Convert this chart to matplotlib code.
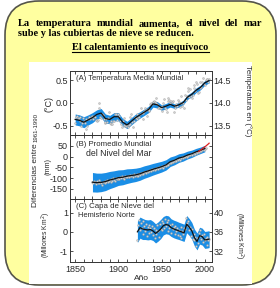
import matplotlib
matplotlib.use('Agg')
import matplotlib.pyplot as plt
from matplotlib.patches import FancyBboxPatch, Rectangle
from matplotlib.transforms import IdentityTransform
from matplotlib.lines import Line2D
from matplotlib.ticker import MultipleLocator, FixedLocator

plt.rcParams['font.family'] = ['Liberation Sans', 'DejaVu Sans']
plt.rcParams['axes.unicode_minus'] = False

# ---------------- data ----------------
temp_years = list(range(1850, 2006))
temp_anom = [
    -0.44, -0.30, -0.29, -0.32, -0.32, -0.31, -0.40, -0.51, -0.43, -0.33,
    -0.39, -0.44, -0.56, -0.35, -0.50, -0.34, -0.30, -0.34, -0.30, -0.29,
    -0.30, -0.34, -0.28, -0.31, -0.37, -0.39, -0.37, -0.10, 0.01, -0.30,
    -0.32, -0.25, -0.27, -0.34, -0.43, -0.41, -0.34, -0.41, -0.33, -0.20,
    -0.44, -0.39, -0.45, -0.45, -0.40, -0.39, -0.23, -0.24, -0.38, -0.28,
    -0.23, -0.29, -0.40, -0.47, -0.53, -0.40, -0.32, -0.48, -0.51, -0.50,
    -0.48, -0.52, -0.49, -0.47, -0.30, -0.24, -0.42, -0.52, -0.40, -0.31,
    -0.32, -0.24, -0.34, -0.31, -0.31, -0.24, -0.12, -0.22, -0.21, -0.36,
    -0.17, -0.10, -0.16, -0.29, -0.14, -0.18, -0.15, -0.03, 0.00, -0.02,
    0.03, 0.05, 0.02, 0.01, 0.12, -0.02, -0.12, -0.09, -0.10, -0.11,
    -0.18, -0.07, 0.01, 0.08, -0.12, -0.14, -0.20, 0.04, 0.11, 0.06,
    -0.01, 0.05, 0.03, 0.05, -0.20, -0.11, -0.06, -0.02, -0.07, 0.07,
    0.03, -0.09, 0.01, 0.16, -0.07, -0.01, -0.10, 0.18, 0.07, 0.16,
    0.26, 0.32, 0.14, 0.31, 0.16, 0.12, 0.18, 0.33, 0.40, 0.27,
    0.45, 0.41, 0.22, 0.23, 0.32, 0.45, 0.34, 0.47, 0.55, 0.41,
    0.39, 0.50, 0.52, 0.52, 0.47, 0.53]
temp_sm_years = [1850, 1855, 1860, 1865, 1870, 1875, 1880, 1885, 1890, 1895,
                 1900, 1905, 1910, 1915, 1920, 1925, 1930, 1935, 1940, 1945,
                 1950, 1955, 1960, 1965, 1970, 1975, 1980, 1985, 1990, 1995,
                 2000, 2005]
temp_sm = [-0.36, -0.38, -0.42, -0.37, -0.32, -0.25, -0.22, -0.34, -0.36, -0.30,
           -0.30, -0.42, -0.48, -0.40, -0.32, -0.26, -0.20, -0.14, -0.02, -0.04,
           -0.10, -0.07, -0.03, -0.07, -0.04, 0.01, 0.13, 0.19, 0.28, 0.34,
           0.44, 0.49]
temp_err = [0.12, 0.12, 0.12, 0.11, 0.11, 0.10, 0.10, 0.10, 0.09, 0.09,
            0.09, 0.08, 0.08, 0.08, 0.08, 0.07, 0.07, 0.07, 0.07, 0.07,
            0.06, 0.06, 0.06, 0.05, 0.05, 0.05, 0.05, 0.05, 0.05, 0.05,
            0.05, 0.05]

sea_years = list(range(1870, 2002))
sea_level = [
    -118, -125, -112, -120, -128, -115, -122, -110, -124, -119,
    -121, -130, -116, -118, -125, -112, -120, -108, -117, -114,
    -110, -118, -104, -112, -100, -108, -115, -99, -106, -102,
    -98, -104, -95, -101, -92, -99, -105, -94, -90, -97,
    -93, -88, -96, -90, -85, -92, -87, -94, -83, -89,
    -86, -90, -82, -88, -80, -84, -77, -82, -75, -79,
    -74, -70, -77, -68, -72, -65, -69, -63, -66, -60,
    -62, -58, -63, -55, -59, -52, -56, -50, -54, -48,
    -50, -46, -52, -44, -41, -46, -38, -35, -40, -31,
    -28, -32, -24, -27, -20, -22, -16, -19, -13, -16,
    -10, -14, -6, -9, -3, -7, 0, -4, 3, 0,
    5, 2, 9, 6, 12, 8, 15, 11, 17, 14,
    20, 16, 23, 19, 26, 28, 24, 31, 35, 30,
    36, 38]
sea_sm_years = [1870, 1875, 1880, 1885, 1890, 1895, 1900, 1905, 1910, 1915,
                1920, 1925, 1930, 1935, 1940, 1945, 1950, 1955, 1960, 1965,
                1970, 1975, 1980, 1985, 1990, 1995, 2000]
sea_sm = [-119, -121, -120, -116, -109, -104, -98, -96, -91, -88,
          -85, -80, -72, -66, -59, -53, -47, -39, -24, -17,
          -7, -2, 7, 13, 22, 29, 37]
sea_err = [45, 44, 43, 42, 40, 38, 36, 35, 34, 32,
           31, 30, 29, 28, 27, 26, 25, 24, 22, 21,
           20, 19, 18, 17, 16, 15, 15]
sat_years = list(range(1993, 2006))
sat_level = [24, 27, 30, 33, 36, 40, 42, 45, 48, 51, 55, 58, 62]

snow_years = list(range(1922, 2006))
snow_anom = [
    -0.45, 0.35, 0.60, 0.10, 0.45, 0.20, 0.55, -0.10,
    0.30, 0.05, 0.40, -0.20, 0.25, 0.35, -0.05, 0.20, 0.00, 0.30,
    -0.15, 0.20, -0.30, 0.10, -0.10, 0.35, 0.05, -0.25, 0.40, 0.15,
    0.55, 0.10, 0.45, 0.20, 0.65, 0.30, 0.50, 0.05, 0.60, 0.20,
    0.35, -0.05, 0.40, 0.15, 0.25, -0.10, 0.30, 0.05, 0.20, -0.15,
    0.10, -0.20, 0.25, -0.30, 0.05, -0.10, 0.20, 0.15, 0.70, 0.45,
    0.30, 0.55, 0.10, 0.25, -0.20, 0.15, -0.35, -0.10, -0.45, -0.25,
    -0.75, -0.30, -0.60, -0.05, -0.20, 0.10, -0.35, -0.15, -0.55, -0.10,
    -0.40, -0.30, -0.70, -0.25, -0.45, -0.35]
snow_sm_years = [1922, 1925, 1928, 1931, 1934, 1937, 1940, 1943, 1946, 1949,
                 1952, 1955, 1958, 1961, 1964, 1967, 1970, 1973, 1976, 1979,
                 1982, 1985, 1988, 1991, 1994, 1997, 2000, 2003, 2005]
snow_sm = [0.00, 0.22, 0.15, 0.12, 0.10, 0.12, 0.05, -0.08, 0.02, 0.15,
           0.32, 0.38, 0.35, 0.22, 0.15, 0.10, 0.05, 0.00, -0.05, 0.40,
           0.25, 0.05, -0.30, -0.50, -0.20, -0.25, -0.42, -0.40, -0.38]
snow_err = [0.55, 0.55, 0.55, 0.52, 0.52, 0.52, 0.50, 0.50, 0.50, 0.50,
            0.48, 0.48, 0.48, 0.46, 0.46, 0.46, 0.45, 0.45, 0.45, 0.45,
            0.44, 0.44, 0.44, 0.44, 0.44, 0.44, 0.44, 0.44, 0.44]

x_major = [1850, 1900, 1950, 2000]
yA_ticks = [-0.5, 0.0, 0.5]
yA_right = [13.5, 14.0, 14.5]
yB_ticks = [-150, -100, -50, 0, 50]
yC_ticks = [-1, 0, 1]
yC_right = [32, 36, 40]

title_l1 = "La temperatura mundial aumenta, el nivel del mar"
title_l2 = "sube y las cubiertas de nieve se reducen."
title_l3 = "El calentamiento es inequívoco"

# ---------------- figure ----------------
W, H = 280, 288
fig = plt.figure(figsize=(W / 100, H / 100), dpi=100)
ident = IdentityTransform()
renderer = fig.canvas.get_renderer()


def X(px):
    return px / W


def Y(py):
    return 1 - py / H


fig.add_artist(FancyBboxPatch((5, 3), 271, 284,
                              boxstyle='round,pad=0,rounding_size=34',
                              transform=ident, facecolor='#ffffa0',
                              edgecolor='#55554a', lw=1.2, zorder=-3))
fig.add_artist(Rectangle((29, 4), 223, 222, transform=ident,
                         facecolor='white', edgecolor='none', zorder=-2))

BLUE = '#1a8ee6'
TXT = '#2a2a2a'
L, R = 70, 211.7


def add_ax(top, bottom):
    ax = fig.add_axes([X(L), Y(bottom), (R - L) / W, (bottom - top) / H])
    ax.set_facecolor('none')
    ax.set_xlim(1844, 2008)
    ax.xaxis.set_major_locator(FixedLocator(x_major))
    ax.xaxis.set_minor_locator(MultipleLocator(10))
    ax.tick_params(axis='x', which='both', direction='in', top=True,
                   bottom=True, length=2.2, width=0.6, color='#333',
                   labelbottom=False, labelsize=6.5, labelcolor=TXT, pad=2)
    ax.tick_params(axis='y', which='both', direction='in', length=2.2,
                   width=0.6, color='#333', labelsize=6.5, labelcolor=TXT,
                   pad=1.5)
    for s in ax.spines.values():
        s.set_linewidth(0.7)
        s.set_color('#333')
    return ax


axA = add_ax(71, 135)
axB = add_ax(135, 199)
axC = add_ax(199, 262)
axC.tick_params(axis='x', labelbottom=True)

pt_kw = dict(ls='none', marker='o', ms=1.4, mfc='#cfcfcf', mec='#9a9a9a',
             mew=0.25, zorder=2)

# Panel A
lo = [m - e for m, e in zip(temp_sm, temp_err)]
hi = [m + e for m, e in zip(temp_sm, temp_err)]
axA.fill_between(temp_sm_years, lo, hi, color=BLUE, lw=0, zorder=1)
axA.plot(temp_years, temp_anom, **pt_kw)
axA.plot(temp_sm_years, temp_sm, color='#111', lw=0.9, zorder=3)
axA.set_ylim(-0.7, 0.7)
axA.set_yticks(yA_ticks)
axA2 = axA.twinx()
axA2.set_ylim(13.3, 14.7)
axA2.set_yticks(yA_right)
axA2.tick_params(axis='y', direction='in', length=2.2, width=0.6,
                 color='#333', labelsize=6.5, labelcolor=TXT, pad=1.5)
for s in axA2.spines.values():
    s.set_visible(False)

# Panel B
lo = [m - e for m, e in zip(sea_sm, sea_err)]
hi = [m + e for m, e in zip(sea_sm, sea_err)]
axB.fill_between(sea_sm_years, lo, hi, color=BLUE, lw=0, zorder=1)
axB.plot(sea_years, sea_level, **pt_kw)
axB.plot(sea_sm_years, sea_sm, color='#111', lw=0.9, zorder=3)
axB.plot(sat_years, sat_level, color='#e02020', lw=0.9, zorder=4)
axB.set_ylim(-197, 100)
axB.set_yticks(yB_ticks)
axB.tick_params(axis='y', right=True)

# Panel C
lo = [m - e for m, e in zip(snow_sm, snow_err)]
hi = [m + e for m, e in zip(snow_sm, snow_err)]
axC.fill_between(snow_sm_years, lo, hi, color=BLUE, lw=0, zorder=1)
axC.plot(snow_years, snow_anom, **pt_kw)
axC.plot(snow_sm_years, snow_sm, color='#111', lw=0.9, zorder=3)
axC.set_ylim(-1.57, 1.71)
axC.set_yticks(yC_ticks)
axC2 = axC.twinx()
axC2.set_ylim(36 - 4 * 1.57, 36 + 4 * 1.71)
axC2.set_yticks(yC_right)
axC2.tick_params(axis='y', direction='in', length=2.2, width=0.6,
                 color='#333', labelsize=6.5, labelcolor=TXT, pad=1.5)
for s in axC2.spines.values():
    s.set_visible(False)


def fit(t, target, use_h=False):
    bb = t.get_window_extent(renderer)
    size = bb.height if use_h else bb.width
    t.set_fontsize(t.get_fontsize() * target / size)


def ftext(x, y, s, target=None, use_h=False, **kw):
    kw.setdefault('color', TXT)
    t = fig.text(X(x), Y(y), s, **kw)
    if target:
        fit(t, target, use_h)
    return t


# panel titles
ftext(76, 78.3, "(A) Temperatura Media Mundial", 108, fontsize=6, va='center')
ftext(76, 144.3, "(B) Promedio Mundial", 76, fontsize=6, va='center')
ftext(86, 154, "del Nivel del Mar", 66, fontsize=6, va='center')
ftext(76, 206.7, "(C) Capa de Nieve del", 79, fontsize=6, va='center')
ftext(77.7, 215.7, "Hemisferio Norte", 57, fontsize=6, va='center')

# axis labels
ftext(48.5, 103.5, "(°C)", 16, True, fontsize=6, rotation=90,
      ha='center', va='center')
ftext(47.5, 166.5, "(mm)", 17, True, fontsize=6, rotation=90,
      ha='center', va='center')
ftext(46, 235, "(Millones Km$^2$)", 46, True, fontsize=6, rotation=90,
      ha='center', va='center')
ftext(35.5, 175, "Diferencias entre", 64, True, fontsize=6, rotation=90,
      ha='center', va='center')
ftext(36.3, 127.5, "1961-1990", 29, True, fontsize=4.5, rotation=90,
      ha='center', va='center')
ftext(247.5, 101, "Temperatura en (°C)", 72, True, fontsize=6, rotation=270,
      ha='center', va='center')
ftext(239, 236, "(Millones Km$^2$)", 48, True, fontsize=6, rotation=270,
      ha='center', va='center')
ftext(141, 279, "Año", fontsize=6, ha='center', va='center')

# title block
serif = dict(family=['Liberation Serif', 'DejaVu Serif'], weight='bold',
             color='black')
t3 = fig.text(X(140.5), Y(49.5), title_l3, ha='center', va='baseline',
              fontsize=8, **serif)
fit(t3, 135.6)
fs = t3.get_fontsize()
t2 = fig.text(X(18.3), Y(36.5), title_l2, ha='left', va='baseline',
              fontsize=fs, **serif)
fit(t2, 176)
# justified first line
words = title_l1.split(' ')
tmp = [fig.text(0, 0, w, fontsize=fs, **serif) for w in words]
widths = [t.get_window_extent(renderer).width for t in tmp]
for t in tmp:
    t.remove()
x0, x1 = 18.3, 262
gap = (x1 - x0 - sum(widths)) / (len(words) - 1)
xc = x0
for w, wd in zip(words, widths):
    fig.text(X(xc), Y(26.5), w, ha='left', va='baseline', fontsize=fs, **serif)
    xc += wd + gap
bb3 = t3.get_window_extent(renderer)
fig.add_artist(Line2D([bb3.x0, bb3.x1], [H - 51.5, H - 51.5], transform=ident,
                      color='black', lw=0.8))

fig.savefig('out.png', dpi=100)
